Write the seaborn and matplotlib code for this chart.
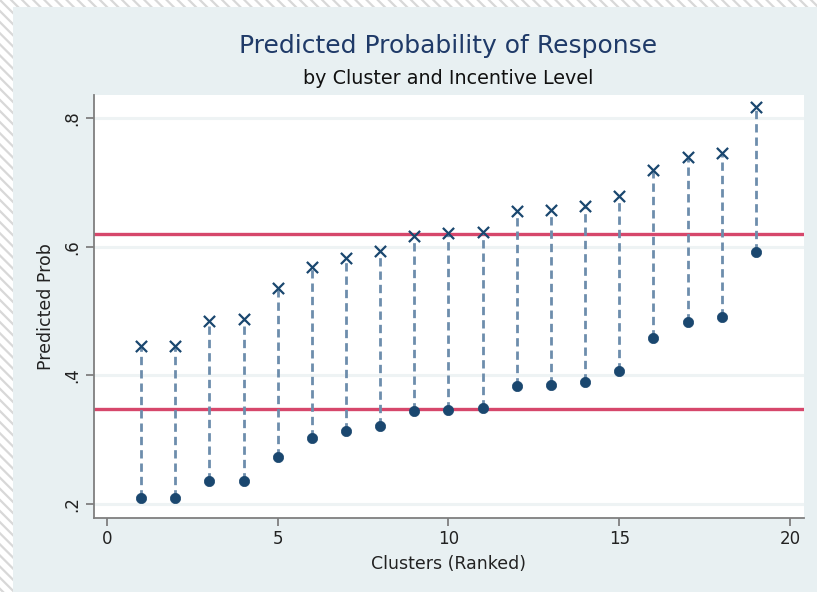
import matplotlib
matplotlib.use("Agg")
import matplotlib.pyplot as plt
from matplotlib.patches import Rectangle
import seaborn as sns
import pandas as pd

# ---- data ----
clusters = list(range(1, 20))
prob_high = [0.446, 0.446, 0.485, 0.487, 0.536, 0.569, 0.583, 0.593, 0.617, 0.621,
             0.623, 0.656, 0.657, 0.663, 0.679, 0.719, 0.740, 0.746, 0.817]
prob_low = [0.209, 0.209, 0.236, 0.236, 0.273, 0.303, 0.314, 0.321, 0.345, 0.346,
            0.349, 0.384, 0.385, 0.390, 0.407, 0.458, 0.483, 0.491, 0.592]
ref_lines = [0.620, 0.348]
x_ticks = [0, 5, 10, 15, 20]
y_ticks = [0.2, 0.4, 0.6, 0.8]
y_tick_labels = [".2", ".4", ".6", ".8"]

title = "Predicted Probability of Response"
subtitle = "by Cluster and Incentive Level"
xlabel = "Clusters (Ranked)"
ylabel = "Predicted Prob"

df = pd.DataFrame({"cluster": clusters, "high": prob_high, "low": prob_low})

sns.set_theme(style="white")
plt.rcParams["font.family"] = ["DejaVu Sans"]
plt.rcParams["hatch.color"] = "#d8d8d8"
plt.rcParams["hatch.linewidth"] = 1.6

BG = "#e8f0f2"
NAVY = "#1a476f"
DASH = "#6d8dac"
RED = "#d6476b"
SPINE = "#7f7f7f"

fig = plt.figure(figsize=(8.17, 5.92), dpi=100)
fig.patch.set_facecolor("white")
# hatched outer border
fig.patches.append(Rectangle((0, 0), 1, 1, transform=fig.transFigure,
                             facecolor="white", edgecolor="#d8d8d8", hatch="\\\\\\",
                             linewidth=0, zorder=-3))
fig.patches.append(Rectangle((13 / 817, 0), 1, 1 - 7 / 592, transform=fig.transFigure,
                             facecolor=BG, edgecolor="none", zorder=-2))

ax = fig.add_axes([93.5 / 817, 1 - 518 / 592, (804 - 93.5) / 817, (518 - 95) / 592])
ax.set_facecolor("white")

# grid lines
for yt in y_ticks:
    ax.axhline(yt, color="#eef3f4", lw=2.2, zorder=0)

# reference lines
for r in ref_lines:
    ax.axhline(r, color=RED, lw=2.4, zorder=1)

# dashed connectors
ax.vlines(df["cluster"], df["low"], df["high"], colors=DASH, lw=2.0,
          linestyles=(0, (3.0, 1.8)), zorder=2)

sns.scatterplot(data=df, x="cluster", y="low", ax=ax, color=NAVY, s=55,
                edgecolor=NAVY, linewidth=0.5, zorder=3, legend=False)
sns.scatterplot(data=df, x="cluster", y="high", ax=ax, color=NAVY, marker="x",
                s=65, linewidth=1.6, zorder=3, legend=False)

ax.set_xlim(-0.395, 20.41)
ax.set_ylim(0.178, 0.836)
ax.set_xticks(x_ticks)
ax.set_xticklabels([str(t) for t in x_ticks])
ax.set_yticks(y_ticks)
ax.set_yticklabels(y_tick_labels, rotation=90, va="center")

for s in ["top", "right"]:
    ax.spines[s].set_visible(False)
for s in ["left", "bottom"]:
    ax.spines[s].set_color(SPINE)
    ax.spines[s].set_linewidth(1.3)

ax.tick_params(axis="both", which="major", direction="out", length=6, width=1.3,
               color=SPINE, labelsize=12, labelcolor="#222222", pad=3,
               left=True, bottom=True)
ax.set_xlabel(xlabel, fontsize=12.5, color="#222222", labelpad=5)
ax.set_ylabel(ylabel, fontsize=12.5, color="#222222", labelpad=6)

fig.text(448 / 817, 1 - 46 / 592, title, ha="center", va="center",
         fontsize=18, color="#1f3a68")
fig.text(448 / 817, 1 - 78 / 592, subtitle, ha="center", va="center",
         fontsize=13.8, color="#111111")

fig.savefig("out.png", dpi=100, facecolor=fig.get_facecolor())
